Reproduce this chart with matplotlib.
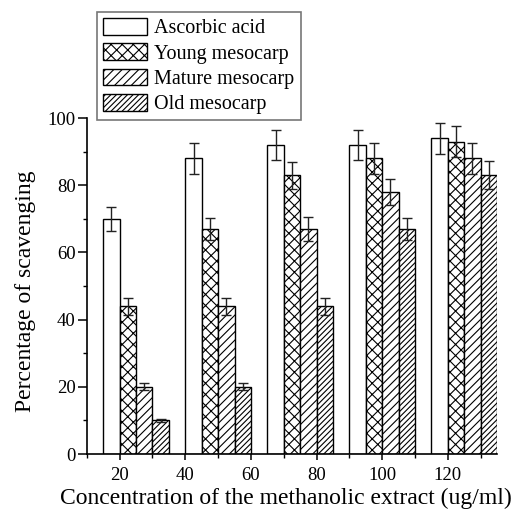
import matplotlib
matplotlib.use("Agg")
import matplotlib.pyplot as plt
import numpy as np

plt.rcParams['font.family'] = ['Liberation Serif', 'DejaVu Serif']
plt.rcParams['hatch.linewidth'] = 0.8

series = ["Ascorbic acid", "Young mesocarp", "Mature mesocarp", "Old mesocarp"]
ascorbic = [70, 88, 92, 92, 94]
young = [44, 67, 83, 88, 93]
mature = [20, 44, 67, 78, 88]
old = [10, 20, 44, 67, 83]
err_ascorbic = [3.5, 4.5, 4.5, 4.5, 4.6]
err_young = [2.5, 3.4, 4.0, 4.5, 4.5]
err_mature = [1.0, 2.5, 3.5, 4.0, 4.5]
err_old = [0.5, 1.0, 2.5, 3.4, 4.2]
xticks = [20, 40, 60, 80, 100, 120]

values = [ascorbic, young, mature, old]
errors = [err_ascorbic, err_young, err_mature, err_old]
hatches = [None, 'xxx', '////', '//////']

fig = plt.figure(figsize=(5.14, 5.09), dpi=100)
ax = fig.add_axes([0.169, 0.108, 0.798, 0.660])

width = 5
group_start = 15 + 25 * np.arange(len(ascorbic))
handles = []
for i, (vals, errs, h) in enumerate(zip(values, errors, hatches)):
    b = ax.bar(group_start + i * width, vals, width=width, align='edge',
               color='white', edgecolor='black', linewidth=1.0, hatch=h,
               label=series[i], zorder=2)
    ax.errorbar(group_start + i * width + width / 2, vals, yerr=errs, fmt='none',
                ecolor='#222222', elinewidth=1.0, capsize=3.5, capthick=1.0,
                zorder=3, clip_on=False)
    handles.append(b)

ax.set_xlim(12.5, 135)
ax.set_ylim(0, 100)
ax.set_xticks(xticks)
ax.set_xticks(np.arange(10, 136, 10), minor=True)
ax.set_yticks(np.arange(0, 101, 20))
ax.set_yticks(np.arange(10, 100, 20), minor=True)
ax.tick_params(axis='x', which='major', direction='out', length=4.5, width=1.1,
               labelsize=13.5, pad=4.5)
ax.tick_params(axis='y', which='major', direction='out', length=6.5, width=1.1,
               labelsize=13.5, pad=1.5)
ax.tick_params(axis='both', which='minor', direction='out', length=3, width=1.0)
for s in ['top', 'right']:
    ax.spines[s].set_visible(False)
for s in ['left', 'bottom']:
    ax.spines[s].set_linewidth(1.2)

ax.set_xlabel("Concentration of the methanolic extract (ug/ml)", fontsize=17)
ax.xaxis.set_label_coords(0.484, -0.102)
ax.set_ylabel("Percentage of scavenging", fontsize=17)
ax.yaxis.set_label_coords(-0.123, 0.486)

leg = fig.legend(handles=handles, labels=series, loc='upper left',
                 bbox_to_anchor=(97 / 514, 1 - 12 / 509), fontsize=14.5,
                 frameon=True, fancybox=False, edgecolor='#555555',
                 handlelength=2.2, handleheight=0.9, handletextpad=0.35,
                 labelspacing=0.25, borderpad=0.3, borderaxespad=0)
leg.get_frame().set_linewidth(1.2)

fig.savefig("out.png", dpi=100)
